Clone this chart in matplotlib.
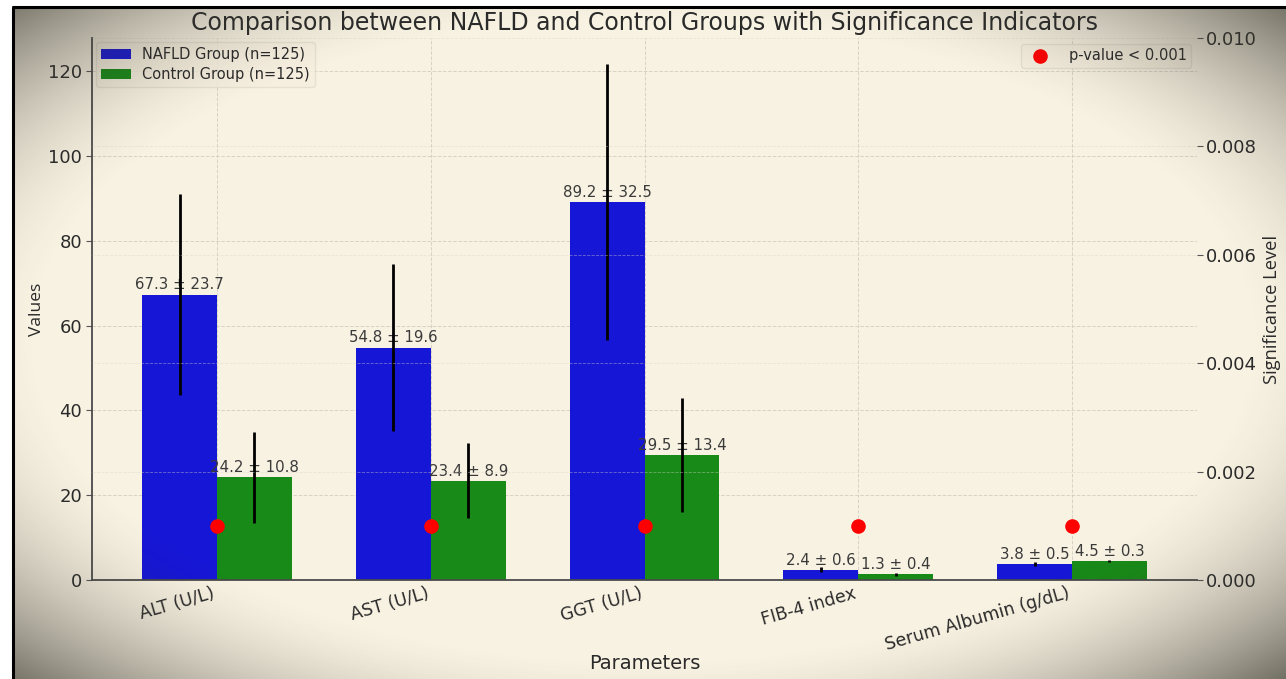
import numpy as np
import matplotlib.pyplot as plt
from matplotlib.patches import Rectangle

# Clinical parameters compared between the two groups (mean ± SD)
parameters = ['ALT (U/L)', 'AST (U/L)', 'GGT (U/L)', 'FIB-4 index', 'Serum Albumin (g/dL)']
nafld_mean = [67.3, 54.8, 89.2, 2.4, 3.8]
nafld_sd = [23.7, 19.6, 32.5, 0.6, 0.5]
control_mean = [24.2, 23.4, 29.5, 1.3, 4.5]
control_sd = [10.8, 8.9, 13.4, 0.4, 0.3]
p_values = [0.001, 0.001, 0.001, 0.001, 0.001]

W, H = 1286, 679
cream = '#f8f2e2'
text_col = '#2a2a2a'
grid_col = '#d8d3c6'

fig = plt.figure(figsize=(W / 100, H / 100), dpi=100, facecolor=cream)
ax = fig.add_axes([92 / W, 1 - 580 / H, (1197 - 92) / W, (580 - 38) / H])
ax.set_facecolor(cream)

x = np.arange(len(parameters))
width = 0.35
err_kw = dict(ecolor='black', elinewidth=2, capsize=0, zorder=3)
ax.bar(x - width / 2, nafld_mean, width, yerr=nafld_sd, color='#1616d6',
       label='NAFLD Group (n=125)', error_kw=err_kw)
ax.bar(x + width / 2, control_mean, width, yerr=control_sd, color='#188a18',
       label='Control Group (n=125)', error_kw=err_kw)

for xs, means, sds in ((x - width / 2, nafld_mean, nafld_sd),
                       (x + width / 2, control_mean, control_sd)):
    for xi, m, s in zip(xs, means, sds):
        ax.text(xi, m + 0.5, f'{m} ± {s}', ha='center', va='bottom',
                fontsize=10.8, color='#3a3a3a', zorder=1.5)

ax.set_xticks(x)
ax.set_xticklabels(parameters, rotation=16, ha='right', fontsize=12.5, color=text_col)
ax.tick_params(axis='y', labelsize=13, labelcolor=text_col, color='#555555',
               length=4, pad=3)
ax.tick_params(axis='x', length=0, pad=3)
ax.set_ylabel('Values', fontsize=12.5, color=text_col, family='Open Sans', labelpad=2)
ax.set_xlabel('Parameters', fontsize=14, color=text_col)
ax.xaxis.set_label_coords(0.5, -0.137)
ax.set_title('Comparison between NAFLD and Control Groups with Significance Indicators',
             fontsize=17, color=text_col, pad=6)
ax.grid(True, linestyle='--', color=grid_col, linewidth=0.7)
ax.set_axisbelow(True)
for side in ('top', 'right'):
    ax.spines[side].set_visible(False)
for side in ('left', 'bottom'):
    ax.spines[side].set_color('#4a4a4a')
    ax.spines[side].set_linewidth(1.3)

# Significance level on a secondary axis
ax2 = ax.twinx()
ax2.scatter(x, p_values, color='red', s=90, zorder=5, label='p-value < 0.001')
ax2.set_ylim(0, 0.01)
sig_ticks = [0.0, 0.002, 0.004, 0.006, 0.008, 0.010]
ax2.set_yticks(sig_ticks)
ax2.set_yticklabels([f'{v:.3f}' for v in sig_ticks])
ax2.tick_params(axis='y', labelsize=13, labelcolor=text_col, color='#555555',
                length=4, pad=2.5)
ax2.set_ylabel('Significance Level', fontsize=13.2, color=text_col, family='Open Sans')
ax2.grid(True, linestyle='--', color=grid_col, linewidth=0.6, alpha=0.45)
for side in ax2.spines:
    ax2.spines[side].set_visible(False)

leg1 = ax.legend(loc='upper left', fontsize=10.5, frameon=True, facecolor='#f6efdf',
                 edgecolor='#e2dccd', borderpad=0.35, labelspacing=0.3,
                 handlelength=2.0, borderaxespad=0.3)
for t in leg1.get_texts():
    t.set_color(text_col)
leg2 = ax2.legend(loc='upper right', fontsize=10.5, frameon=True, facecolor='#f6efdf',
                  edgecolor='#e2dccd', borderpad=0.3, handletextpad=1.0,
                  borderaxespad=0.4)
for t in leg2.get_texts():
    t.set_color(text_col)

# Vignette overlay and frame
ov = fig.add_axes([0, 0, 1, 1], zorder=20)
ov.set_xlim(0, W)
ov.set_ylim(H, 0)
ov.axis('off')
yy, xx = np.mgrid[0:H, 0:W]
nx = (xx - W / 2) / (W / 2)
ny = (yy - H / 2) / (H / 2)
r = np.sqrt(nx ** 2 + ny ** 2) / np.sqrt(2)
alpha = 0.72 * np.clip((r - 0.66) / 0.34, 0, 1) ** 1.6
rgba = np.zeros((H, W, 4))
rgba[..., 0] = 60 / 255
rgba[..., 1] = 58 / 255
rgba[..., 2] = 48 / 255
rgba[..., 3] = alpha
ov.imshow(rgba, extent=(0, W, H, 0), aspect='auto', interpolation='bilinear')
ov.add_patch(Rectangle((0, 0), 12, H, facecolor='white', edgecolor='none'))
ov.add_patch(Rectangle((0, 0), W, 5.5, facecolor='white', edgecolor='none'))
ov.plot([13, 13], [6.5, H], color='black', lw=2.2, solid_capstyle='butt')
ov.plot([12, W], [6.8, 6.8], color='black', lw=2.2, solid_capstyle='butt')

fig.savefig('out.png', dpi=100, facecolor=cream)
